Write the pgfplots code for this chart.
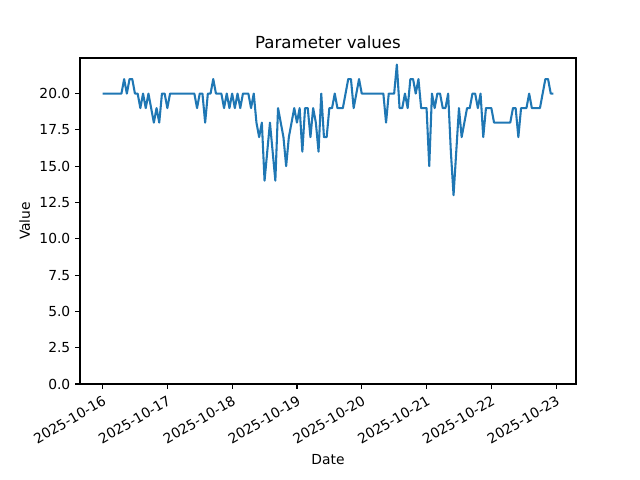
\documentclass[border=0pt]{standalone}
\usepackage{fontspec}
\setmainfont{DejaVu Sans}
\usepackage{pgfplots}
\pgfplotsset{compat=1.18}
\definecolor{mplblue}{HTML}{1F77B4}

% hourly readings, hour 0 = 2025-10-16 00:00
\pgfplotstableread{
h v
0 20
1 20
2 20
3 20
4 20
5 20
6 20
7 20
8 21
9 20
10 21
11 21
12 20
13 20
14 19
15 20
16 19
17 20
18 19
19 18
20 19
21 18
22 20
23 20
24 19
25 20
26 20
27 20
28 20
29 20
30 20
31 20
32 20
33 20
34 20
35 19
36 20
37 20
38 18
39 20
40 20
41 21
42 20
43 20
44 20
45 19
46 20
47 19
48 20
49 19
50 20
51 19
52 20
53 20
54 20
55 19
56 20
57 18
58 17
59 18
60 14
61 16
62 18
63 16
64 14
65 19
66 18
67 17
68 15
69 17
70 18
71 19
72 18
73 19
74 16
75 19
76 19
77 17
78 19
79 18
80 16
81 20
82 17
83 17
84 19
85 19
86 20
87 19
88 19
89 19
90 20
91 21
92 21
93 19
94 20
95 21
96 20
97 20
98 20
99 20
100 20
101 20
102 20
103 20
104 20
105 18
106 20
107 20
108 20
109 22
110 19
111 19
112 20
113 19
114 21
115 21
116 20
117 21
118 19
119 19
120 19
121 15
122 20
123 19
124 20
125 20
126 19
127 19
128 20
129 16
130 13
131 16
132 19
133 17
134 18
135 19
136 19
137 20
138 20
139 19
140 20
141 17
142 19
143 19
144 19
145 18
146 18
147 18
148 18
149 18
150 18
151 18
152 19
153 19
154 17
155 19
156 19
157 19
158 20
159 19
160 19
161 19
162 19
163 20
164 21
165 21
166 20
167 20
}\params

\begin{document}
\begin{tikzpicture}
\path[use as bounding box] (0,0) rectangle (6.4in,4.8in);
\begin{axis}[
    at={(0.8in,0.96in)}, anchor=south west,
    scale only axis,
    width=4.96in, height=3.26in,
    xmin=-8.35, xmax=175.35,
    ymin=0, ymax=22.45,
    xtick={0,24,48,72,96,120,144,168},
    xticklabels={2025-10-16,2025-10-17,2025-10-18,2025-10-19,2025-10-20,2025-10-21,2025-10-22,2025-10-23},
    x tick label style={rotate=30, anchor=north east, inner sep=1pt, yshift=-2.5pt, xshift=-1.5pt},
    ytick={0,2.5,...,20},
    yticklabel style={/pgf/number format/.cd, fixed, fixed zerofill, precision=1, assume math mode=true},
    tick align=outside,
    xtick pos=bottom, ytick pos=left,
    major tick length=3.5pt,
    tick style={black, line width=0.8pt},
    axis line style={line width=0.8pt},
    title={\large Parameter values},
    title style={yshift=-3pt},
    xlabel={Date},
    xlabel style={yshift=-2pt},
    ylabel={Value},
]
\addplot[mplblue, line width=1.5pt, line join=round] table[x=h, y=v] {\params};
\end{axis}
\end{tikzpicture}
\end{document}
